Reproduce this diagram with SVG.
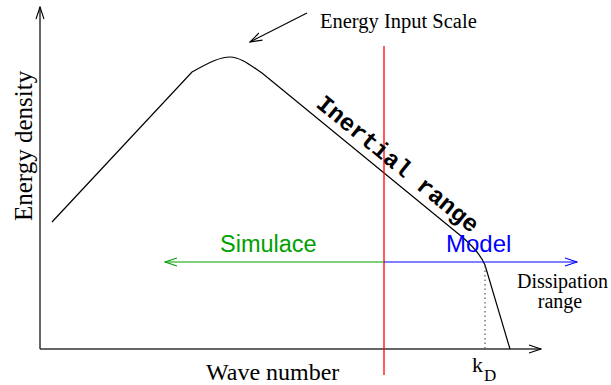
<svg xmlns="http://www.w3.org/2000/svg" width="611" height="385" viewBox="0 0 611 385">
<style>
.serif{font-family:"Liberation Serif","Times New Roman",serif;fill:#000}
.sans{font-family:"Liberation Sans",Arial,sans-serif}
.mono{font-family:"Liberation Mono","Courier New",monospace;font-weight:bold;fill:#000}
.ln{fill:none;stroke:#000;stroke-width:1.2}
.ax{fill:none;stroke:#333;stroke-width:1.5}
</style>
<defs>
<marker id="ahK" markerWidth="14" markerHeight="10" refX="13" refY="5" orient="auto" markerUnits="userSpaceOnUse"><path d="M1,1 L13,5 L1,9" fill="none" stroke="#000" stroke-width="1.1"/></marker>
<marker id="ahG" markerWidth="14" markerHeight="10" refX="13" refY="5" orient="auto" markerUnits="userSpaceOnUse"><path d="M1,1 L13,5 L1,9" fill="none" stroke="#00a000" stroke-width="1.1"/></marker>
<marker id="ahB" markerWidth="14" markerHeight="10" refX="13" refY="5" orient="auto" markerUnits="userSpaceOnUse"><path d="M1,1 L13,5 L1,9" fill="none" stroke="#0000ff" stroke-width="1.1"/></marker>
</defs>
<g id="axes">
<line class="ax" x1="40" y1="349" x2="40" y2="7" marker-end="url(#ahK)"/>
<line class="ax" x1="40" y1="349" x2="541" y2="349" marker-end="url(#ahK)"/>
</g>
<g id="spectrum">
<path class="ln" d="M52,222 L192,72 C210,62 220,57 230,57 C240,57 250,65 262,73 L461,236 Q479,251 485,265 L510,349"/>
<line x1="485" y1="266" x2="485" y2="349" stroke="#555" stroke-width="1.2" stroke-dasharray="1.5,3"/>
</g>
<g id="divider">
<line x1="384" y1="46" x2="384" y2="375" stroke="#ff0000" stroke-width="1.3"/>
</g>
<g id="connectors">
<line x1="384" y1="262" x2="165" y2="262" stroke="#00a000" stroke-width="1.2" marker-end="url(#ahG)"/>
<line x1="384" y1="262" x2="577" y2="262" stroke="#0000ff" stroke-width="1.2" marker-end="url(#ahB)"/>
<line x1="307" y1="13" x2="250" y2="42" stroke="#000" stroke-width="1.1" marker-end="url(#ahK)"/>
</g>
<g id="labels">
<text class="serif" x="320" y="28" font-size="20.5">Energy Input Scale</text>
<text class="serif" font-size="25" transform="translate(32,221) rotate(-90)">Energy density</text>
<text class="serif" x="206" y="380" font-size="24">Wave number</text>
<text class="sans" x="220" y="252" font-size="23.5" fill="#00a000">Simulace</text>
<text class="sans" x="446" y="252" font-size="24" fill="#0000ff">Model</text>
<text class="serif" x="517" y="288" font-size="20">Dissipation</text>
<text class="serif" x="560" y="308" font-size="20" text-anchor="middle">range</text>
<text class="serif" x="472" y="372" font-size="22">k</text>
<text class="serif" x="484" y="381" font-size="17">D</text>
<text class="mono" font-size="24" transform="translate(315,106) rotate(39.3)">Inertial range</text>
</g>
</svg>
